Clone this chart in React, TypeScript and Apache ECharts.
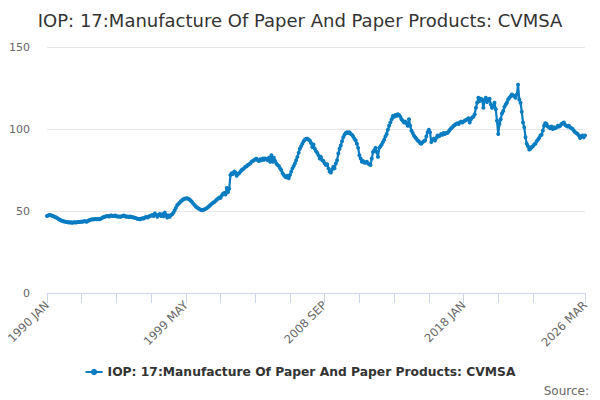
import React, { useEffect, useRef } from "react";
import * as echarts from "echarts";

const TITLE = "IOP: 17:Manufacture Of Paper And Paper Products: CVMSA";
const SERIES_NAME = "IOP: 17:Manufacture Of Paper And Paper Products: CVMSA";
const MONTHS = ["JAN", "FEB", "MAR", "APR", "MAY", "JUN", "JUL", "AUG", "SEP", "OCT", "NOV", "DEC"];
const START_YEAR = 1990;

const values: number[] = [
  // 1990
  47.0, 47.2, 47.5, 47.4, 47.1, 46.9, 46.5, 46.2, 45.8, 45.3, 44.8, 44.4,
  // 1991
  44.0, 43.8, 43.6, 43.4, 43.3, 43.2, 43.0, 43.1, 42.9, 43.0, 43.1, 43.0,
  // 1992
  43.2, 43.3, 43.3, 43.5, 43.4, 43.6, 43.7, 43.8, 43.5, 43.9, 44.3, 44.6,
  // 1993
  44.8, 45.0, 44.9, 45.1, 45.0, 45.2, 45.0, 45.1, 45.6, 46.0, 46.4, 46.6,
  // 1994
  46.8, 47.0, 46.7, 47.1, 47.3, 47.0, 46.9, 47.2, 46.8, 46.6, 46.7, 46.5,
  // 1995
  46.7, 46.9, 47.2, 46.8, 46.5, 46.7, 46.4, 46.6, 46.3, 46.2, 46.0, 45.8,
  // 1996
  45.5, 45.3, 45.1, 45.0, 45.3, 45.6, 45.4, 46.0, 46.3, 46.1, 46.5, 46.9,
  // 1997
  47.3, 47.6, 47.0, 48.5, 47.8, 46.5, 47.5, 48.2, 47.0, 48.0, 46.8, 49.0,
  // 1998
  47.5, 46.0, 47.2, 46.5, 47.5, 48.0, 49.0, 50.5, 52.0, 53.5, 54.3, 55.0,
  // 1999
  56.0, 56.6, 57.2, 57.5, 57.6, 57.8, 57.4, 57.0, 56.3, 55.5, 54.5, 53.6,
  // 2000
  52.8, 52.2, 51.6, 51.2, 50.8, 50.5, 50.7, 51.0, 51.3, 51.8, 52.4, 53.0,
  // 2001
  53.8, 54.5, 55.0, 55.5, 56.3, 57.0, 57.5, 58.2, 58.0, 59.5, 60.5, 61.0,
  // 2002
  60.0, 64.0, 61.5, 63.5, 72.0, 73.0, 72.5, 74.0, 73.5, 71.5, 72.5, 73.0,
  // 2003
  74.0, 75.0, 75.5, 76.0, 77.0, 77.2, 78.0, 78.5, 79.0, 80.0, 80.5, 81.0,
  // 2004
  81.5, 81.8, 81.0, 80.5, 81.5, 81.0, 82.0, 81.2, 82.0, 81.5, 81.0, 82.5,
  // 2005
  80.0, 84.0, 80.0, 82.5, 80.5, 79.0, 78.0, 77.5, 76.0, 75.0, 73.0, 72.0,
  // 2006
  71.0, 70.5, 71.5, 70.0, 72.0, 74.0, 76.0, 77.5, 79.0, 81.0, 83.0, 85.5,
  // 2007
  88.0, 89.5, 91.0, 92.5, 93.5, 94.0, 94.0, 93.5, 93.0, 91.5, 89.0, 90.5,
  // 2008
  88.0, 86.5, 85.5, 84.0, 82.0, 83.0, 81.0, 80.5, 79.0, 78.0, 78.5, 76.0,
  // 2009
  74.0, 73.5, 75.5, 77.0, 76.0, 79.0, 81.0, 85.0, 88.0, 90.0, 92.5, 95.0,
  // 2010
  96.5, 97.5, 98.0, 97.5, 98.0, 97.0, 96.5, 95.5, 94.0, 93.0, 91.0, 88.5,
  // 2011
  84.0, 82.0, 80.0, 80.5, 79.5, 79.5, 80.0, 79.0, 78.5, 78.0, 82.0, 86.0,
  // 2012
  87.0, 88.5, 86.0, 83.0, 88.5, 89.5, 90.5, 92.0, 93.5, 95.5, 97.0, 99.5,
  // 2013
  102.0, 104.0, 106.0, 108.0, 107.5, 108.5, 108.0, 109.0, 108.5, 107.5, 106.0, 105.0,
  // 2014
  104.0, 104.5, 103.5, 102.0, 106.0, 102.0, 99.0, 97.5, 96.0, 95.0, 94.0, 93.0,
  // 2015
  92.5, 91.5, 91.0, 92.0, 92.5, 93.0, 95.5, 98.0, 99.5, 98.0, 92.0, 93.5,
  // 2016
  94.0, 93.0, 94.5, 96.0, 95.5, 96.0, 97.0, 96.5, 97.5, 97.0, 97.5, 97.5,
  // 2017
  98.5, 99.5, 100.5, 101.0, 102.0, 102.5, 103.0, 103.5, 103.0, 104.0, 104.5, 104.0,
  // 2018
  104.5, 105.0, 105.5, 106.0, 106.5, 104.0, 106.0, 107.0, 107.5, 109.0, 113.0, 116.0,
  // 2019
  119.0, 117.0, 118.5, 118.0, 113.0, 117.0, 119.0, 116.5, 118.0, 118.5, 115.0, 113.0,
  // 2020
  114.0, 116.0, 112.0, 105.0, 97.0, 103.0, 106.0, 109.5, 111.0, 113.5, 115.0, 116.0,
  // 2021
  118.0, 119.0, 120.0, 121.0, 120.5, 120.0, 119.0, 121.0, 127.0, 118.0, 116.0, 110.5,
  // 2022
  104.0, 101.0, 95.0, 91.0, 89.5, 87.5, 88.0, 89.0, 89.5, 90.5, 91.0, 92.5,
  // 2023
  93.5, 94.5, 96.0, 96.5, 99.0, 102.0, 103.5, 103.0, 101.5, 101.0, 100.5, 101.5,
  // 2024
  100.0, 101.0, 100.5, 101.0, 102.0, 101.5, 102.0, 103.0, 103.5, 104.0, 102.5, 102.0,
  // 2025
  101.5, 102.0, 101.0, 100.5, 100.0, 99.0, 98.0, 97.5, 97.0, 96.0, 94.5, 95.5,
  // 2026
  96.0, 95.0, 96.0,
];

const categories: string[] = values.map(
  (_, i) => `${START_YEAR + Math.floor(i / 12)} ${MONTHS[i % 12]}`
);

const Y_MIN = 0;
const Y_MAX = 150;
const Y_STEP = 50;
const LABEL_EVERY = 112;
const TICK_EVERY = 28;

export default function App() {
  const ref = useRef<HTMLDivElement>(null);

  useEffect(() => {
    if (!ref.current) return;
    const chart = echarts.init(ref.current, undefined, { renderer: "svg" });
    const last = categories.length - 1;
    const color = "#0a7cc2";
    chart.setOption({
      animation: false,
      textStyle: { fontFamily: "DejaVu Sans" },
      title: {
        text: TITLE,
        left: "center",
        top: 6,
        textStyle: { fontSize: 18, fontWeight: "normal", color: "#333333", fontFamily: "DejaVu Sans" },
      },
      legend: {
        bottom: 17,
        left: "center",
        itemWidth: 17,
        itemHeight: 8,
        itemGap: 5,
        textStyle: { fontSize: 12.3, fontWeight: "bold", color: "#333333", fontFamily: "DejaVu Sans" },
        data: [SERIES_NAME],
      },
      graphic: [
        {
          type: "text",
          right: 11,
          bottom: 3,
          style: { text: "Source:", fontSize: 12, fill: "#666666", fontFamily: "DejaVu Sans" },
        },
      ],
      grid: { left: 47, right: 15, top: 47, bottom: 107, containLabel: false },
      xAxis: {
        type: "category",
        data: categories,
        boundaryGap: false,
        axisLine: { lineStyle: { color: "#ccd6eb", width: 1 } },
        axisTick: {
          length: 10,
          lineStyle: { color: "#ccd6eb" },
          interval: (i: number) => (i % TICK_EVERY === 0 && i < 420) || i === last,
        },
        axisLabel: {
          rotate: 45,
          color: "#666666",
          fontSize: 11.5,
          margin: 10,
          interval: (i: number) => i % LABEL_EVERY === 0 || i === last,
        },
        splitLine: { show: false },
      },
      yAxis: {
        type: "value",
        min: Y_MIN,
        max: Y_MAX,
        interval: Y_STEP,
        axisLine: { show: false },
        axisTick: { show: false },
        axisLabel: { color: "#666666", fontSize: 11, margin: 17 },
        splitLine: { lineStyle: { color: "#e6e6e6" } },
      },
      series: [
        {
          name: SERIES_NAME,
          type: "line",
          data: values,
          color,
          symbol: "circle",
          symbolSize: 4,
          showSymbol: true,
          showAllSymbol: true,
          lineStyle: { width: 2.2, color },
          itemStyle: { color },
        },
      ],
    });
    return () => chart.dispose();
  }, []);

  return (
    <div
      ref={ref}
      style={{ position: "absolute", left: 0, top: 0, width: 600, height: 400 }}
    />
  );
}
